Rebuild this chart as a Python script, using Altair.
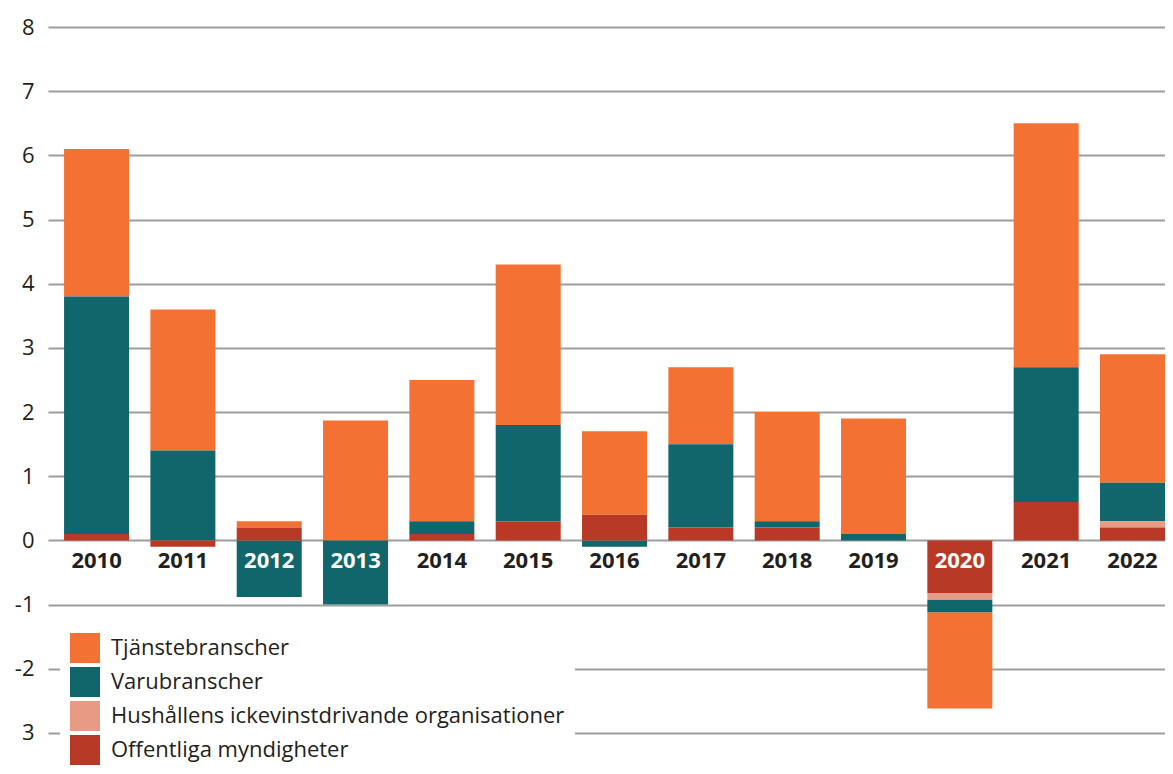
import altair as alt
import pandas as pd

years = ["2010", "2011", "2012", "2013", "2014", "2015", "2016",
         "2017", "2018", "2019", "2020", "2021", "2022"]
offentliga = [0.1, -0.1, 0.2, 0.0, 0.1, 0.3, 0.4, 0.2, 0.2, 0.0, -0.82, 0.6, 0.2]
hushallen = [0.0, 0.0, 0.0, 0.0, 0.0, 0.0, 0.0, 0.0, 0.0, 0.0, -0.1, 0.0, 0.1]
varu = [3.7, 1.4, -0.88, -1.0, 0.2, 1.5, -0.1, 1.3, 0.1, 0.1, -0.2, 2.1, 0.6]
tjanste = [2.3, 2.2, 0.1, 1.87, 2.2, 2.5, 1.3, 1.2, 1.7, 1.8, -1.5, 3.8, 2.0]

series_names = ["Tjänstebranscher", "Varubranscher",
                "Hushållens ickevinstdrivande organisationer", "Offentliga myndigheter"]
series_values = [tjanste, varu, hushallen, offentliga]
stack_order = [3, 2, 1, 0]
colors = ["#F37233", "#10666B", "#E99A85", "#B83A26"]
y_ticks = [-3, -2, -1, 0, 1, 2, 3, 4, 5, 6, 7, 8]
white_label_years = ["2012", "2013", "2020"]

rows = []
for name, vals, o in zip(series_names, series_values, stack_order):
    for yr, v in zip(years, vals):
        rows.append({"year": yr, "serie": name, "value": v, "ord": o})
df = pd.DataFrame(rows)
labels_df = pd.DataFrame({"year": years})

font = "Open Sans"

xscale = alt.Scale(paddingInner=0.247, paddingOuter=0.093, align=1)
yscale = alt.Scale(domain=[-3.515, 8], nice=False, zero=False)

bars = alt.Chart(df).mark_bar().encode(
    x=alt.X("year:N", scale=xscale, axis=None),
    y=alt.Y("value:Q", scale=yscale, stack="zero",
            axis=alt.Axis(values=y_ticks, title=None, grid=True, gridColor="#9d9d9d",
                          gridWidth=2, domain=False, ticks=False, labelPadding=14,
                          labelFontSize=22, labelColor="#231f20", labelFont=font,
                          labelExpr="datum.value == -3 ? '3' : (datum.value < 0 ? '-' + abs(datum.value) : '' + datum.value)")),
    color=alt.Color("serie:N",
                    scale=alt.Scale(domain=series_names, range=colors),
                    legend=alt.Legend(title=None, orient="none", legendX=12, legendY=596,
                                      fillColor="white", padding=10, symbolType="square",
                                      symbolSize=900, symbolStrokeWidth=0, symbolOpacity=1,
                                      labelFontSize=22, labelFont=font, labelColor="#231f20",
                                      labelLimit=800, labelOffset=11, rowPadding=4)),
    order=alt.Order("ord:Q", sort="ascending"),
)

texts = alt.Chart(labels_df).mark_text(fontSize=22, fontWeight="bold", font=font,
                                       dy=21, baseline="middle").encode(
    x=alt.X("year:N", scale=xscale, axis=None),
    y=alt.datum(0),
    text="year:N",
    color=alt.condition(alt.FieldOneOfPredicate(field="year", oneOf=white_label_years),
                        alt.value("white"), alt.value("#231f20")),
)

chart = alt.layer(bars, texts).properties(
    width=1117, height=739,
    autosize=alt.AutoSizeParams(type="none"),
    padding={"left": 40, "top": 19, "right": 0, "bottom": 0},
).configure_view(stroke=None)

chart.save("out.html", embed_options={"renderer": "svg", "actions": False})
